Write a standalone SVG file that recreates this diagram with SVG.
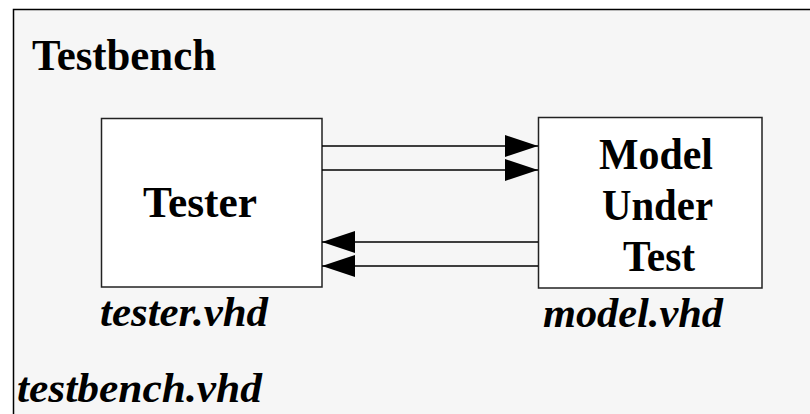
<svg xmlns="http://www.w3.org/2000/svg" width="810" height="414" viewBox="0 0 810 414">
  <style>
    .frame { fill: #f6f6f6; stroke: #000; stroke-width: 1.5; }
    .block { fill: #fff; stroke: #222; stroke-width: 1.5; }
    .title { font-family: "Liberation Serif", "Times New Roman", serif; font-weight: bold; font-size: 45px; fill: #000; }
    .file { font-family: "Liberation Serif", "Times New Roman", serif; font-weight: bold; font-style: italic; font-size: 42px; fill: #000; }
    .wire { stroke: #000; stroke-width: 1.5; fill: none; }
  </style>
  <defs>
    <marker id="head" markerUnits="userSpaceOnUse" markerWidth="34" markerHeight="23" refX="33" refY="11" orient="auto">
      <path d="M0,0 L33,11 L0,22 z" fill="#000"/>
    </marker>
  </defs>

  <rect width="810" height="414" fill="#fff"/>

  <!-- testbench enclosure -->
  <g id="testbench">
    <rect class="frame" x="13.5" y="9.5" width="810" height="420"/>
    <text class="title" x="32" y="70" textLength="184" lengthAdjust="spacingAndGlyphs">Testbench</text>
    <text class="file" x="17" y="402" textLength="245" lengthAdjust="spacingAndGlyphs">testbench.vhd</text>
  </g>

  <!-- tester block -->
  <g id="tester">
    <rect class="block" x="101.5" y="118.5" width="220.5" height="168.5"/>
    <text class="title" x="143" y="217" textLength="114" lengthAdjust="spacingAndGlyphs">Tester</text>
    <text class="file" x="100" y="326" textLength="168" lengthAdjust="spacingAndGlyphs">tester.vhd</text>
  </g>

  <!-- model under test block -->
  <g id="model">
    <rect class="block" x="538.5" y="117.5" width="223.5" height="170.5"/>
    <text class="title" x="599" y="169" textLength="114" lengthAdjust="spacingAndGlyphs">Model</text>
    <text class="title" x="602" y="220" textLength="111" lengthAdjust="spacingAndGlyphs">Under</text>
    <text class="title" x="623" y="271" textLength="72" lengthAdjust="spacingAndGlyphs">Test</text>
    <text class="file" x="543" y="327" textLength="180" lengthAdjust="spacingAndGlyphs">model.vhd</text>
  </g>

  <!-- signal connections -->
  <g id="connectors">
    <line class="wire" x1="322" y1="146" x2="538" y2="146" marker-end="url(#head)"/>
    <line class="wire" x1="322" y1="170" x2="538" y2="170" marker-end="url(#head)"/>
    <line class="wire" x1="538" y1="242" x2="322" y2="242" marker-end="url(#head)"/>
    <line class="wire" x1="538" y1="266" x2="322" y2="266" marker-end="url(#head)"/>
  </g>
</svg>
